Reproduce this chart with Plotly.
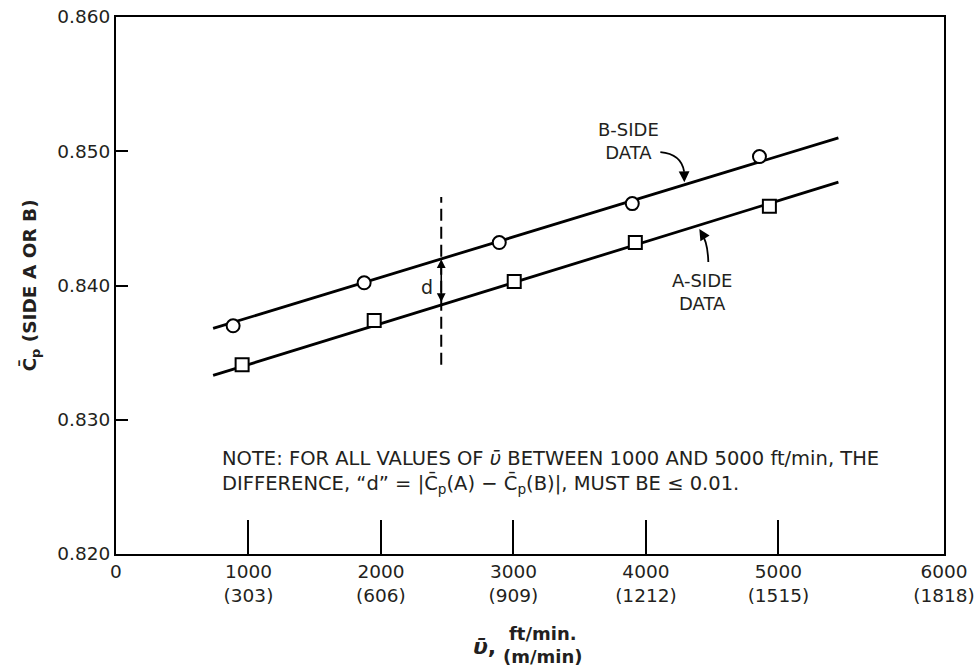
import plotly.graph_objects as go

# ---------------- data ----------------
b_side_x = [884, 1873, 2893, 3897, 4857]
b_side_cp = [0.8370, 0.8402, 0.8432, 0.8461, 0.8496]

a_side_x = [952, 1949, 3006, 3920, 4932]
a_side_cp = [0.8341, 0.8374, 0.8403, 0.8432, 0.8459]

fit_x = [733, 5453]
b_fit_cp = [0.8368, 0.8510]
a_fit_cp = [0.8333, 0.8477]

d_line_x = [2455, 2455]
d_line_cp = [0.8341, 0.8466]

x_tick_values = [0, 1000, 2000, 3000, 4000, 5000, 6000]
x_tick_labels = ["0", "1000<br>(303)", "2000<br>(606)", "3000<br>(909)",
                 "4000<br>(1212)", "5000<br>(1515)", "6000<br>(1818)"]
y_tick_values = [0.820, 0.830, 0.840, 0.850, 0.860]
y_tick_labels = ["0.820", "0.830", "0.840", "0.850", "0.860"]

X_END = 6250  # right edge of the frame (the 6000 label sits on it)
FONT = "DejaVu Sans, sans-serif"
INK = "#231f20"

x_tick_pos = [v if v < 6000 else X_END for v in x_tick_values]

fig = go.Figure()

# fitted lines
for yy in (b_fit_cp, a_fit_cp):
    fig.add_trace(go.Scatter(x=fit_x, y=yy, mode="lines",
                             line=dict(color="black", width=2.8),
                             hoverinfo="skip", showlegend=False))

# dashed reference line
fig.add_trace(go.Scatter(x=d_line_x, y=d_line_cp, mode="lines",
                         line=dict(color="black", width=2, dash="12px,6px"),
                         hoverinfo="skip", showlegend=False))

# markers
fig.add_trace(go.Scatter(x=b_side_x, y=b_side_cp, mode="markers", name="B-SIDE",
                         marker=dict(symbol="circle", size=13, color="white",
                                     line=dict(color="black", width=2)),
                         showlegend=False))
fig.add_trace(go.Scatter(x=a_side_x, y=a_side_cp, mode="markers", name="A-SIDE",
                         marker=dict(symbol="square", size=13, color="white",
                                     line=dict(color="black", width=2)),
                         showlegend=False))

C = dict(xanchor="center", yanchor="middle")
ann = []
# B-SIDE / A-SIDE labels
ann.append(dict(x=3867, y=0.8508, text="B-SIDE<br>DATA", showarrow=False, **C,
                font=dict(size=18, family=FONT, color=INK), align="center"))
ann.append(dict(x=4426, y=0.8395, text="A-SIDE<br>DATA", showarrow=False, **C,
                font=dict(size=18, family=FONT, color=INK), align="center"))
# curved leader lines
shapes = [
    dict(type="path", xref="x", yref="y",
         path="M 4109,0.84994 Q 4267,0.84980 4288,0.8485",
         line=dict(color="black", width=1.8)),
    dict(type="path", xref="x", yref="y",
         path="M 4471,0.84175 Q 4466,0.84330 4420,0.84385",
         line=dict(color="black", width=1.8)),
]
# arrowheads
ann.append(dict(x=4290, y=0.8477, ax=4288, ay=0.8486, axref="x", ayref="y",
                text="", showarrow=True, arrowhead=2, arrowsize=1.2,
                arrowwidth=1.8, arrowcolor="black"))
ann.append(dict(x=4403, y=0.8442, ax=4425, ay=0.84385, axref="x", ayref="y",
                text="", showarrow=True, arrowhead=2, arrowsize=1.2,
                arrowwidth=1.8, arrowcolor="black"))
# d double arrow
ann.append(dict(x=2455, y=0.84195, ax=2455, ay=0.83865, axref="x", ayref="y",
                text="", showarrow=True, arrowhead=2, startarrowhead=2,
                arrowside="end+start", arrowsize=1.1, startarrowsize=1.1,
                arrowwidth=1.6, arrowcolor="black"))
ann.append(dict(x=2349, y=0.8399, text="d", showarrow=False, **C,
                font=dict(size=19, family=FONT, color=INK)))
# note
ann.append(dict(xref="paper", yref="paper", x=0.1256, y=0.1527,
                xanchor="left", yanchor="middle", align="left", showarrow=False,
                text="NOTE: FOR ALL VALUES OF <i>ῡ</i> BETWEEN 1000 AND 5000 ft/min, THE<br>"
                     "DIFFERENCE, “d” = |C̄<sub>p</sub>(A) − C̄<sub>p</sub>(B)|, MUST BE ≤ 0.01.",
                font=dict(size=19.5, family=FONT, color=INK)))
# axis titles
ann.append(dict(xref="paper", yref="paper", x=-0.1039, y=0.5, textangle=-90, **C,
                showarrow=False, text="<b>C̄<sub>p</sub> (SIDE A OR B)</b>",
                font=dict(size=18.5, family=FONT, color=INK)))
ann.append(dict(xref="paper", yref="paper", x=0.5157, y=-0.1695, showarrow=False, **C,
                text="<b>ft/min.</b><br><b>(m/min)</b>", align="center",
                font=dict(size=18, family=FONT, color=INK)))
ann.append(dict(xref="paper", yref="paper", x=0.4450, y=-0.173, showarrow=False, **C,
                text="<b><i>ῡ</i>,</b>",
                font=dict(size=22, family=FONT, color=INK)))

fig.update_layout(
    width=978, height=670,
    margin=dict(l=116, r=34, t=17, b=116, autoexpand=False),
    plot_bgcolor="white", paper_bgcolor="white",
    font=dict(family=FONT, size=18, color=INK),
    annotations=ann, shapes=shapes, showlegend=False,
)
fig.update_xaxes(range=[0, X_END], tickmode="array", tickvals=x_tick_pos,
                 ticktext=x_tick_labels, ticks="inside", ticklen=34, tickwidth=2,
                 tickcolor="black", showline=True, linewidth=2, linecolor="black",
                 mirror=True, showgrid=False, zeroline=False, automargin=False,
                 ticklabeloverflow="allow",
                 tickfont=dict(size=18.5, family=FONT, color=INK))
fig.update_yaxes(range=[0.820, 0.860], tickmode="array", tickvals=y_tick_values,
                 ticktext=y_tick_labels, ticks="inside", ticklen=12, tickwidth=2,
                 tickcolor="black", showline=True, linewidth=2, linecolor="black",
                 mirror=True, showgrid=False, zeroline=False, automargin=False,
                 ticklabeloverflow="allow",
                 tickfont=dict(size=18.5, family=FONT, color=INK))

# remove the page's default 8 px body margin so the figure fills the window exactly
fig.write_html("out.html",
               config={"displayModeBar": False},
               post_script="document.body.style.margin='0';"
                           "document.body.style.overflow='hidden';")
